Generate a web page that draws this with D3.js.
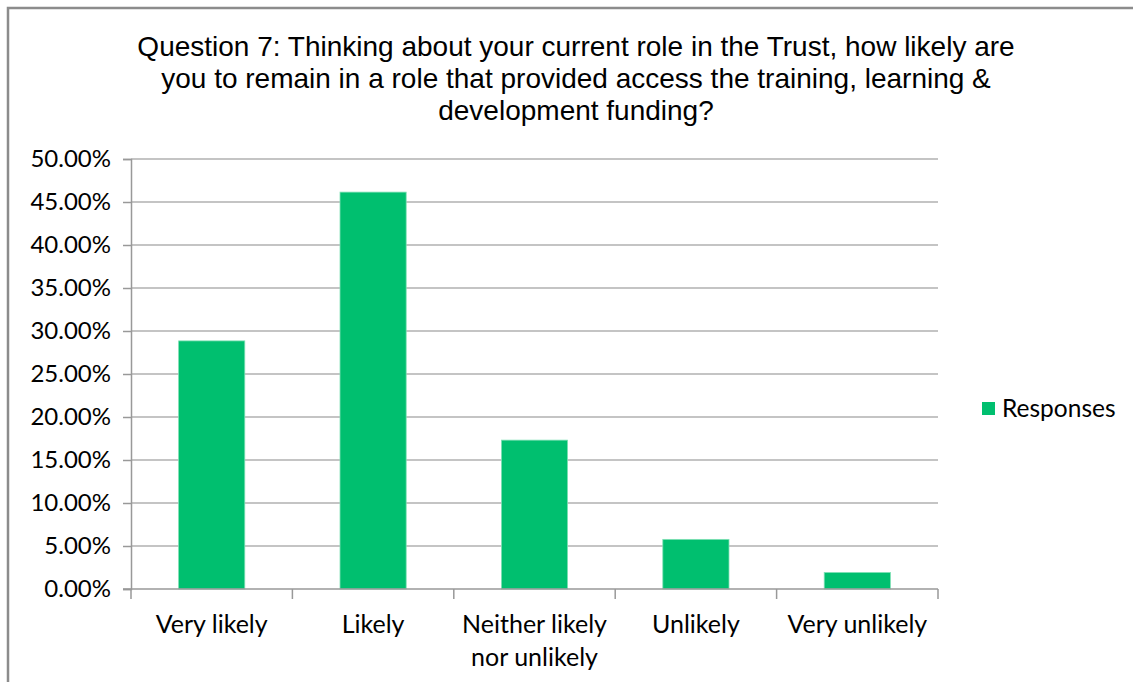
<!DOCTYPE html>
<html>
<head>
<meta charset="utf-8">
<script src="https://cdn.jsdelivr.net/npm/d3@7"></script>
<style>
  html, body { margin: 0; padding: 0; background: #fff; }
  svg { display: block; }
</style>
</head>
<body>
<svg id="chart" width="1133" height="682"></svg>
<script>
// Survey answers for question 7 (share of all responses)
const categories = ["Very likely", "Likely", "Neither likely\nnor unlikely", "Unlikely", "Very unlikely"];
const responses = [0.2885, 0.4615, 0.1731, 0.0577, 0.0192];
const yTicks = [0, 0.05, 0.10, 0.15, 0.20, 0.25, 0.30, 0.35, 0.40, 0.45, 0.50];
const titleLines = [
  "Question 7: Thinking about your current role in the Trust, how likely are",
  "you to remain in a role that provided access the training, learning &",
  "development funding?"
];
const seriesName = "Responses";

const svg = d3.select("#chart");
const W = 1133, H = 682;
const plot = { left: 131, right: 938, top: 159, bottom: 589 };
const barColor = "#00bf6f";
const gridColor = "#b0b0b0";
const labelFont = "Lato, 'Open Sans', sans-serif";

// Outer chart frame (only top and left edges fall inside the page)
svg.append("rect")
  .attr("x", 8).attr("y", 8)
  .attr("width", W + 20).attr("height", H + 20)
  .attr("fill", "#fff")
  .attr("stroke", "#8c8c8c").attr("stroke-width", 2.5);

// Title
svg.append("g").selectAll("text")
  .data(titleLines)
  .join("text")
  .attr("x", 576)
  .attr("y", (d, i) => 56 + i * 32)
  .attr("text-anchor", "middle")
  .attr("font-family", "'Liberation Sans', Arial, sans-serif")
  .attr("font-size", 28)
  .attr("fill", "#000")
  .text(d => d);

const x = d3.scaleBand()
  .domain(categories)
  .range([plot.left, plot.right])
  .paddingInner(0).paddingOuter(0);

const y = d3.scaleLinear()
  .domain([0, 0.5])
  .range([plot.bottom, plot.top]);

// Horizontal gridlines
svg.append("g").selectAll("line")
  .data(yTicks.filter(t => t > 0))
  .join("line")
  .attr("x1", plot.left).attr("x2", plot.right)
  .attr("y1", d => y(d)).attr("y2", d => y(d))
  .attr("stroke", gridColor).attr("stroke-width", 1.5);

// Bars
const barW = x.bandwidth() * 0.41;
svg.append("g").selectAll("rect")
  .data(categories.map((c, i) => ({ c, v: responses[i] })))
  .join("rect")
  .attr("x", d => x(d.c) + (x.bandwidth() - barW) / 2)
  .attr("y", d => y(d.v))
  .attr("width", barW)
  .attr("height", d => y(0) - y(d.v))
  .attr("fill", barColor)
  .attr("stroke", "#7fe0b5").attr("stroke-width", 0.8);

// Y axis
const yAxis = svg.append("g")
  .attr("transform", `translate(${plot.left},0)`)
  .call(d3.axisLeft(y).tickValues(yTicks).tickFormat(d3.format(".2%")).tickSize(8).tickPadding(12));
yAxis.select(".domain").attr("stroke", "#999").attr("stroke-width", 1.5);
yAxis.selectAll(".tick line").attr("stroke", "#999").attr("stroke-width", 1.5);
yAxis.selectAll(".tick text")
  .attr("font-family", labelFont).attr("font-size", 24).attr("fill", "#000");

// X axis with tick marks at category boundaries
const xAxisG = svg.append("g");
xAxisG.append("line")
  .attr("x1", plot.left - 8).attr("x2", plot.right)
  .attr("y1", plot.bottom).attr("y2", plot.bottom)
  .attr("stroke", "#999").attr("stroke-width", 1.5);
const bounds = categories.map(c => x(c)).concat([x(categories[categories.length - 1]) + x.bandwidth()]);
xAxisG.selectAll("line.tick")
  .data(bounds)
  .join("line")
  .attr("class", "tick")
  .attr("x1", d => d).attr("x2", d => d)
  .attr("y1", plot.bottom).attr("y2", plot.bottom + 10)
  .attr("stroke", "#999").attr("stroke-width", 1.5);

// Category labels (multi-line where needed)
const catLabels = xAxisG.selectAll("text.cat")
  .data(categories)
  .join("text")
  .attr("class", "cat")
  .attr("text-anchor", "middle")
  .attr("font-family", labelFont).attr("font-size", 25)
  .attr("fill", "#000");
catLabels.each(function(d) {
  const t = d3.select(this);
  d.split("\n").forEach((line, i) => {
    t.append("tspan")
      .attr("x", x(d) + x.bandwidth() / 2)
      .attr("y", 633 + i * 33)
      .text(line);
  });
});

// Legend
const legend = svg.append("g").attr("transform", "translate(982,402)");
legend.append("rect")
  .attr("width", 13).attr("height", 13)
  .attr("fill", barColor);
legend.append("text")
  .attr("x", 20).attr("y", 15)
  .attr("font-family", labelFont).attr("font-size", 24.5)
  .attr("fill", "#000")
  .text(seriesName);
</script>
</body>
</html>
